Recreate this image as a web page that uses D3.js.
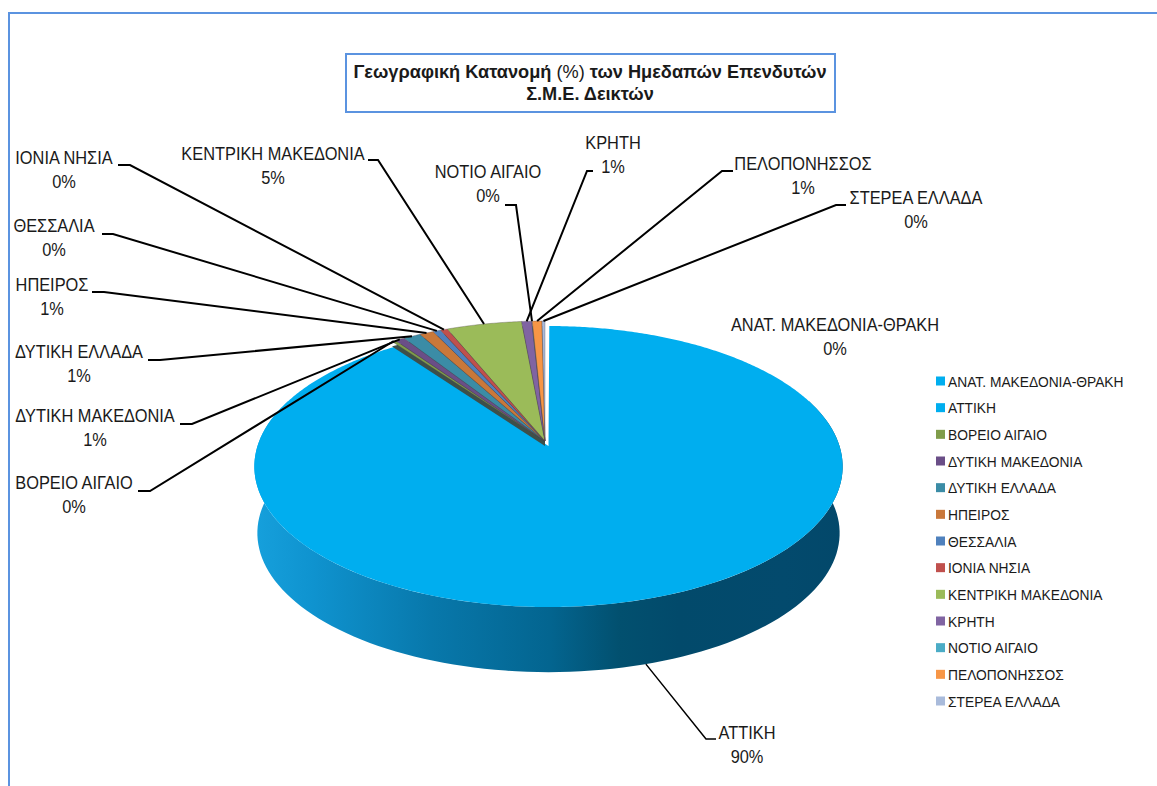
<!DOCTYPE html>
<html><head><meta charset="utf-8">
<script src="https://cdnjs.cloudflare.com/ajax/libs/d3/7.8.5/d3.min.js"></script>
<style>html,body{margin:0;padding:0;background:#fff}svg{display:block}text{font-family:"Liberation Sans",Arial,sans-serif;fill:#1a1a1a}</style>
</head><body><div id="c"></div>
<script>
const categories = ["ΑΝΑΤ. ΜΑΚΕΔΟΝΙΑ-ΘΡΑΚΗ","ΑΤΤΙΚΗ","ΒΟΡΕΙΟ ΑΙΓΑΙΟ","ΔΥΤΙΚΗ ΜΑΚΕΔΟΝΙΑ","ΔΥΤΙΚΗ ΕΛΛΑΔΑ","ΗΠΕΙΡΟΣ","ΘΕΣΣΑΛΙΑ","ΙΟΝΙΑ ΝΗΣΙΑ","ΚΕΝΤΡΙΚΗ ΜΑΚΕΔΟΝΙΑ","ΚΡΗΤΗ","ΝΟΤΙΟ ΑΙΓΑΙΟ","ΠΕΛΟΠΟΝΗΣΣΟΣ","ΣΤΕΡΕΑ ΕΛΛΑΔΑ"];
const values = [0.05,89.95,0.25,0.6,1.1,0.89,0.49,0.45,4.75,0.64,0.03,0.61,0.19];
const colors = ["#00aeef","#00aeef","#7f9c4a","#6a4e87","#3b8ca6","#c9783a","#4f81bd","#c0504d","#9bbb59","#8064a2","#4bacc6","#f79646","#a9bbdb"];

// label placement: [centre x, first baseline y, leader start x, knee x, knee y, share of slice]
const labelLayout = [
 [835,331,null,null,null,.5],
 [747,739,716,706,739,.503],
 [74,489,138,150,491,.5],
 [95,422,180,192,424,.5],
 [79,358,148,160,360,.5],
 [52,291,92,104,292,.5],
 [54,232,102,113,234,.5],
 [64,164,118,130,165,.5],
 [273,160,368,378,160,.5],
 [613,149,593,587,171,.5],
 [488,178,505,516,205,.5],
 [803,170,733,722,171,.5],
 [916,204,846,836,205,.5]
];

const W=1157,H=786;
const svg=d3.select("#c").append("svg").attr("width",W).attr("height",H);
const blue="#5b93e0";
svg.append("path").attr("d",`M9,786V13H1157`).attr("fill","none").attr("stroke",blue).attr("stroke-width",2);

// title
svg.append("rect").attr("x",346).attr("y",54).attr("width",489).attr("height",58).attr("fill","#fff").attr("stroke",blue).attr("stroke-width",2);
const t1=svg.append("text").attr("x",590).attr("y",78).attr("text-anchor","middle").attr("font-size",18.2).attr("font-weight","bold");
t1.append("tspan").text("Γεωγραφική Κατανομή ");
t1.append("tspan").attr("font-weight","normal").text("(%)");
t1.append("tspan").text(" των Ημεδαπών Επενδυτών");
svg.append("text").attr("x",590).attr("y",100).attr("text-anchor","middle").attr("font-size",18.2).attr("font-weight","bold").text("Σ.Μ.Ε. Δεικτών");

// projection of the tilted disc
const k=.146,b=137.5,a=291;
const project=(ang,cx,cy,s=1)=>{const u=Math.sin(ang)*s,v=-Math.cos(ang)*s,d=1-k*v;return [cx+a*u/d,cy+b*v/d];};
const pie=d3.pie().sort(null).startAngle(0).endAngle(2*Math.PI);
const arcs=pie(values);
const line=d3.line();
const sector=(s,e,cx,cy)=>{const n=Math.max(2,Math.ceil((e-s)/.01));return line([[cx,cy],...d3.range(n+1).map(i=>project(s+(e-s)*i/n,cx,cy))])+"Z";};

const bigC=[548.5,446], smallC=[545,441], depth=67, wallScale=.99;
// gradient for the side wall
const grad=svg.append("defs").append("linearGradient").attr("id","wall").attr("gradientUnits","userSpaceOnUse").attr("x1",254).attr("x2",844).attr("y1",0).attr("y2",0);
[[0,"#16a0dc"],[.1,"#0f93cf"],[.3,"#0878ab"],[.5,"#036590"],[.62,"#02506f"],[.72,"#024a6b"],[.9,"#034a6d"],[1,"#03486a"]].forEach(d=>grad.append("stop").attr("offset",d[0]).attr("stop-color",d[1]));

const ar=arcs[1];
const frontStart=Math.PI/2-.35, frontEnd=3*Math.PI/2+.35;
const angs=d3.range(0,121).map(i=>frontStart+(frontEnd-frontStart)*i/120);
svg.append("path").attr("fill","url(#wall)").attr("d",line([
  ...angs.map(t=>project(t,bigC[0],bigC[1])),
  ...angs.slice().reverse().map(t=>project(t,bigC[0],bigC[1]+depth,wallScale))
])+"Z");

// Attica top
svg.append("path").attr("fill",colors[1]).attr("d",sector(ar.startAngle,ar.endAngle,bigC[0],bigC[1]));

// the raised group of small slices: cut wall, then slices
const gs=arcs[2].startAngle;
svg.append("path").attr("fill","#3d4f4a").attr("d",sector(gs,2*Math.PI,smallC[0],smallC[1]+5));
svg.selectAll("path.sl").data(arcs.map((d,i)=>({d,i})).filter(o=>o.i>1)).join("path").attr("class","sl")
  .attr("fill",o=>colors[o.i]).attr("stroke","#4a4048").attr("stroke-opacity",.4).attr("stroke-width",.8)
  .attr("d",o=>sector(o.d.startAngle,o.d.endAngle,smallC[0],smallC[1]));

// data labels and leaders
const total=d3.sum(values), pct=d3.format(".0%");
const g=svg.append("g");
const squeezed=(sel,x,y,sx)=>sel.attr("transform",`translate(${x},${y}) scale(${sx},1)`);
categories.forEach((c,i)=>{
  const L=labelLayout[i], A=arcs[i];
  squeezed(g.append("text").attr("text-anchor","middle").attr("font-size",18).text(c),L[0],L[1],.91);
  squeezed(g.append("text").attr("text-anchor","middle").attr("font-size",18).text(pct(values[i]/total)),L[0],L[1]+23.5,.91);
  if(L[2]===null) return;
  const ang=A.startAngle+(A.endAngle-A.startAngle)*L[5];
  const end= i===1 ? project(ang,bigC[0],bigC[1]+depth,wallScale) : project(ang,smallC[0],smallC[1]);
  g.append("path").attr("fill","none").attr("stroke","#000").attr("stroke-width",i===1?1.5:2).attr("d",line([[L[2],L[4]],[L[3],L[4]],end]));
});

// legend
const y=d3.scalePoint().domain(categories).range([381,701]);
const lg=svg.append("g").selectAll("g").data(categories).join("g").attr("transform",d=>`translate(936,${y(d)})`);
lg.append("rect").attr("y",-4.5).attr("width",9).attr("height",9).attr("fill",(d,i)=>colors[i]);
lg.append("text").attr("font-size",15).attr("transform","translate(12,5.5) scale(.92,1)").text(d=>d);
</script></body></html>
